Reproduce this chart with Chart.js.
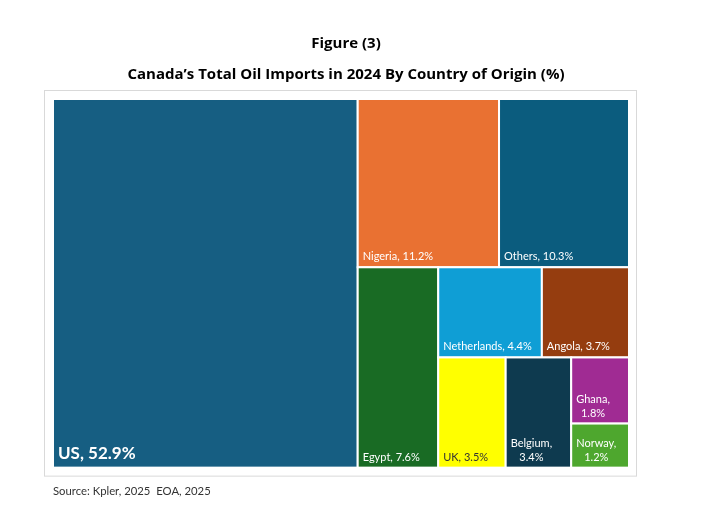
<!DOCTYPE html>
<html>
<head>
<meta charset="utf-8">
<title>Canada's Total Oil Imports in 2024 By Country of Origin</title>
<script src="https://cdn.jsdelivr.net/npm/chart.js@4.4.1/dist/chart.umd.min.js"></script>
<style>
  html, body { margin: 0; padding: 0; background: #fff; }
  #wrap { position: relative; width: 707px; height: 525px; }
</style>
</head>
<body>
<div id="wrap"><canvas id="chart"></canvas></div>
<script>
// countries, largest share first (treemap order)
const countries = ['US', 'Nigeria', 'Others', 'Egypt', 'Netherlands', 'Angola', 'UK', 'Belgium', 'Ghana', 'Norway'];
// share of total oil imports, %
const shares = [52.9, 11.2, 10.3, 7.6, 4.4, 3.7, 3.5, 3.4, 1.8, 1.2];
// cell fill per country
const cellColors = ['#165e82', '#e97132', '#0b5c7e', '#196b24', '#0f9ed5', '#953d0f', '#ffff00', '#0e3a4f', '#a02b93', '#4ea72e'];
// label colour per country (dark text on the yellow cell)
const labelColors = ['#fff', '#fff', '#fff', '#fff', '#fff', '#fff', '#333', '#fff', '#fff', '#fff'];
// how many cells go into each strip of the treemap, as in the reference
const stripCounts = [1, 2, 1, 2, 1, 1, 1, 1];

const sum = arr => arr.reduce((a, b) => a + b, 0);

// slice the plot area into strips; each strip is laid along the shorter side
// of what is left, and its cells get areas proportional to their shares
function layoutCells(xs, ys) {
    const cells = [];
    let x0 = xs.min, x1 = xs.max, y0 = ys.min, y1 = ys.max;
    let remaining = sum(shares);
    let i = 0;
    stripCounts.forEach(n => {
        const part = shares.slice(i, i + n);
        const partSum = sum(part);
        const wPx = Math.abs(xs.getPixelForValue(x1) - xs.getPixelForValue(x0));
        const hPx = Math.abs(ys.getPixelForValue(y1) - ys.getPixelForValue(y0));
        if (wPx >= hPx) {
            // column on the left
            const w = (x1 - x0) * partSum / remaining;
            let y = y0;
            part.forEach((v, k) => {
                const h = (y1 - y0) * v / partSum;
                cells.push({ i: i + k, x: x0, y: y, w: w, h: h });
                y += h;
            });
            x0 += w;
        } else {
            // row on top
            const h = (y1 - y0) * partSum / remaining;
            let x = x0;
            part.forEach((v, k) => {
                const w = (x1 - x0) * v / partSum;
                cells.push({ i: i + k, x: x, y: y0, w: w, h: h });
                x += w;
            });
            y0 += h;
        }
        remaining -= partSum;
        i += n;
    });
    return cells;
}

// label in the bottom-left corner, wrapped onto two lines if it does not fit
function drawLabel(ctx, i, l, r, b) {
    const big = i === 0;
    ctx.font = big ? 'bold 17px Lato' : '11px Lato';
    const pad = 5;
    const text = countries[i] + ', ' + shares[i].toFixed(1) + '%';
    let lines = [text];
    if (ctx.measureText(text).width > r - l - 2 * pad) {
        lines = [countries[i] + ',', shares[i].toFixed(1) + '%'];
    }
    const widths = lines.map(s => ctx.measureText(s).width);
    const blockW = Math.max(...widths);
    ctx.fillStyle = labelColors[i];
    ctx.textAlign = 'left';
    ctx.textBaseline = 'alphabetic';
    lines.forEach((s, k) => {
        const yb = b - (big ? 9 : 7) - (lines.length - 1 - k) * 13.5;
        ctx.fillText(s, l + pad + (blockW - widths[k]) / 2, yb);
    });
}

// draw the treemap cells from the scales
const treemapPlugin = {
    id: 'treemap',
    beforeDatasetsDraw(chart) {
        const { ctx, scales: { x, y } } = chart;
        ctx.save();
        layoutCells(x, y).forEach(c => {
            const l = x.getPixelForValue(c.x), r = x.getPixelForValue(c.x + c.w);
            const t = y.getPixelForValue(c.y), b = y.getPixelForValue(c.y + c.h);
            ctx.fillStyle = cellColors[c.i];
            ctx.fillRect(l, t, r - l, b - t);
            ctx.strokeStyle = '#fff';
            ctx.lineWidth = 2;
            ctx.strokeRect(l, t, r - l, b - t);
            drawLabel(ctx, c.i, l, r, b);
        });
        ctx.restore();
    }
};

// light grey frame round the plot, like the chart area border in the reference
const framePlugin = {
    id: 'frame',
    beforeDraw(chart) {
        const { ctx, chartArea: a } = chart;
        ctx.save();
        ctx.strokeStyle = '#d9d9d9';
        ctx.lineWidth = 1;
        ctx.strokeRect(a.left - 8.5, a.top - 8.5, a.right - a.left + 16, a.bottom - a.top + 17);
        ctx.restore();
    }
};

new Chart(document.getElementById('chart'), {
    type: 'scatter',
    data: {
        datasets: [{ label: 'Share of total oil imports (%)', data: [], pointRadius: 0, borderWidth: 0 }]
    },
    options: {
        responsive: true,
        maintainAspectRatio: false,
        animation: false,
        layout: { padding: { left: 53, right: 68, top: 0, bottom: 0 } },
        scales: {
            x: { type: 'linear', min: 0, max: 100, display: false },
            y: { type: 'linear', min: 0, max: 100, reverse: true, display: false },
            // empty right axis, only there to leave a little room so the titles sit where they do
            yRight: {
                type: 'linear', position: 'right', min: 0, max: 100,
                ticks: { display: false }, grid: { display: false }, border: { display: false },
                afterFit(scale) { scale.width = 10; }
            }
        },
        plugins: {
            legend: { display: false },
            tooltip: { enabled: false },
            title: {
                display: true,
                text: ['Figure (3)', 'Canada’s Total Oil Imports in 2024 By Country of Origin (%)'],
                color: '#000',
                font: { family: 'Open Sans', size: 15, weight: 'bold', lineHeight: 31 / 15 },
                padding: { top: 28.5, bottom: 8.5 }
            },
            subtitle: {
                display: true,
                position: 'bottom',
                align: 'start',
                text: 'Source: Kpler, 2025  EOA, 2025',
                color: '#333',
                font: { family: 'Lato', size: 11.3 },
                padding: { top: 17.4, bottom: 26.4 }
            }
        }
    },
    plugins: [framePlugin, treemapPlugin]
});
</script>
</body>
</html>
